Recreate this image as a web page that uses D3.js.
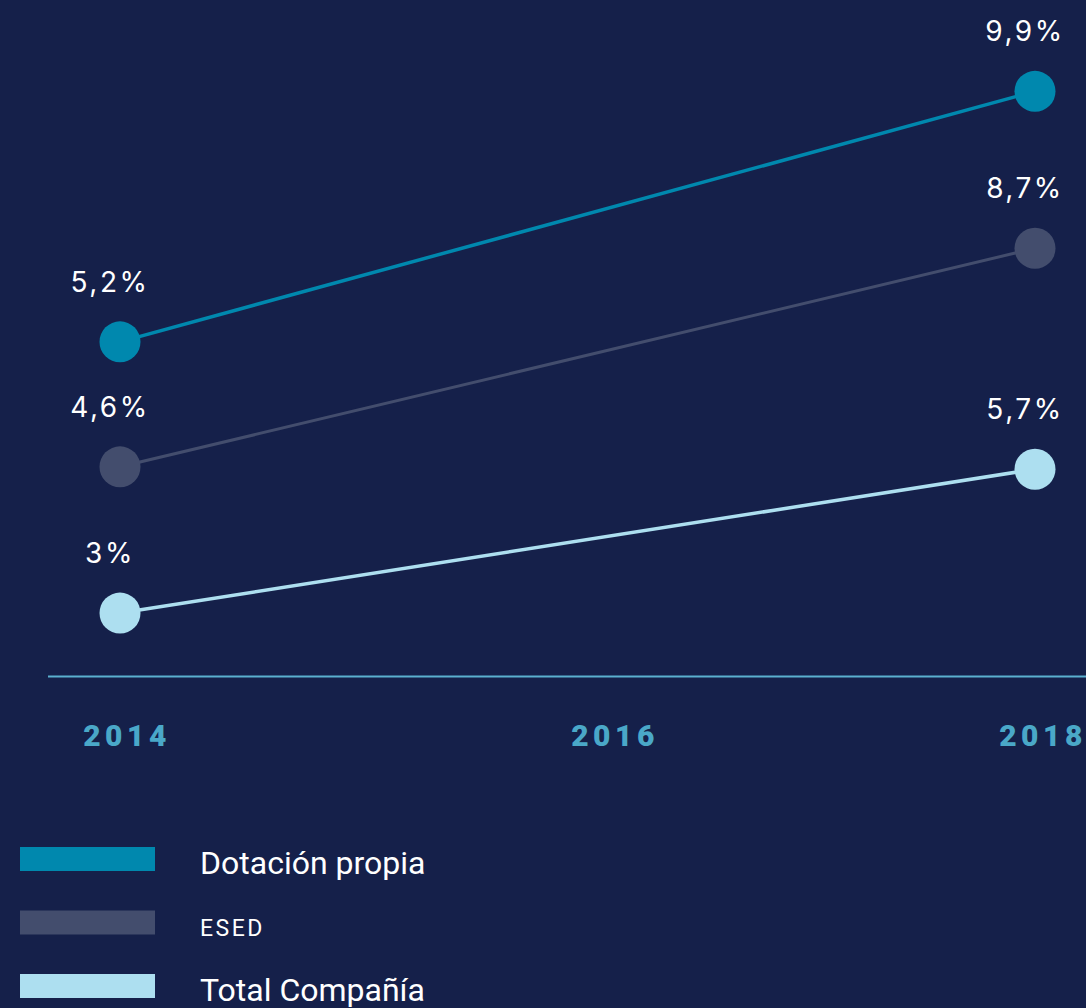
<!DOCTYPE html>
<html>
<head>
    <meta charset="utf-8">
    <title>Line Chart</title>
    <script src="https://d3js.org/d3.v7.min.js"></script>
    <style>
        body { margin: 0; background: #15204a; }
    </style>
</head>
<body>

<script>
const years = [2014, 2016, 2018];
const pointYears = [2014, 2018];
const seriesNames = ['Dotación propia', 'ESED', 'Total Compañía'];
const dotacionValues = [5.2, 9.9];
const esedValues = [4.6, 8.7];
const totalValues = [3.0, 5.7];
const valueLabels = [['5,2%', '9,9%'], ['4,6%', '8,7%'], ['3%', '5,7%']];

const width = 1086;
const height = 1008;

const svg = d3.select('body')
    .append('svg')
    .attr('width', width)
    .attr('height', height);

svg.append('rect')
    .attr('width', width)
    .attr('height', height)
    .attr('fill', '#15204a');

// series styles, each line sits on its own baseline
const styles = [
    { color: '#0088ae', base: 619, width: 3.5 },
    { color: '#434d6d', base: 712, width: 3 },
    { color: '#addff0', base: 773, width: 3.5 }
];

const series = [dotacionValues, esedValues, totalValues].map((values, i) => ({
    name: seriesNames[i],
    labels: valueLabels[i],
    style: styles[i],
    points: values.map((v, j) => ({ year: pointYears[j], value: v }))
}));

const x = d3.scaleLinear()
    .domain([2014, 2018])
    .range([120, 1035]);

// shared pixels-per-unit
const y = d3.scaleLinear()
    .domain([0, 10])
    .range([0, -533]);

const line = s => d3.line()
    .x(d => x(d.year))
    .y(d => s.style.base + y(d.value));

const g = svg.selectAll('g.series')
    .data(series)
    .enter()
    .append('g')
    .attr('class', 'series');

g.append('path')
    .attr('d', s => line(s)(s.points))
    .attr('fill', 'none')
    .attr('stroke', s => s.style.color)
    .attr('stroke-width', s => s.style.width);

g.selectAll('circle')
    .data(s => s.points.map(p => ({ p, s })))
    .enter()
    .append('circle')
    .attr('cx', d => x(d.p.year))
    .attr('cy', d => d.s.style.base + y(d.p.value))
    .attr('r', 20.5)
    .attr('fill', d => d.s.style.color);

g.selectAll('text.value')
    .data(s => s.points.map((p, j) => ({ p, s, label: s.labels[j] })))
    .enter()
    .append('text')
    .attr('class', 'value')
    .attr('x', d => x(d.p.year) - 10)
    .attr('y', d => d.s.style.base + y(d.p.value) - 50)
    .attr('text-anchor', 'middle')
    .attr('fill', '#ffffff')
    .attr('font-family', 'Inter, sans-serif')
    .attr('font-size', 28)
    .attr('letter-spacing', 2.5)
    .text(d => d.label);

// baseline axis
svg.append('line')
    .attr('x1', 48)
    .attr('x2', width)
    .attr('y1', 676.5)
    .attr('y2', 676.5)
    .attr('stroke', '#5bb0cf')
    .attr('stroke-width', 2);

const xLabel = d3.scaleOrdinal()
    .domain(years)
    .range([127, 615, 1043]);

svg.selectAll('text.year')
    .data(years)
    .enter()
    .append('text')
    .attr('class', 'year')
    .attr('x', d => xLabel(d))
    .attr('y', 746)
    .attr('text-anchor', 'middle')
    .attr('fill', '#4aa8c8')
    .attr('font-family', 'Roboto, sans-serif')
    .attr('font-weight', 900)
    .attr('font-size', 30)
    .attr('letter-spacing', 4.5)
    .text(d => d);

// legend
const legend = svg.selectAll('g.legend')
    .data(series)
    .enter()
    .append('g')
    .attr('class', 'legend')
    .attr('transform', (d, i) => `translate(0,${847 + i * 63.5})`);

legend.append('rect')
    .attr('x', 20)
    .attr('width', 135)
    .attr('height', 24)
    .attr('fill', d => d.style.color);

legend.append('text')
    .attr('x', 200)
    .attr('y', (d, i) => i === 1 ? 25 : 27)
    .attr('fill', '#ffffff')
    .attr('font-family', 'Roboto, sans-serif')
    .attr('font-size', (d, i) => i === 1 ? 23 : 32)
    .attr('letter-spacing', (d, i) => i === 1 ? 2.5 : 0)
    .text(d => d.name);
</script>

</body>
</html>
